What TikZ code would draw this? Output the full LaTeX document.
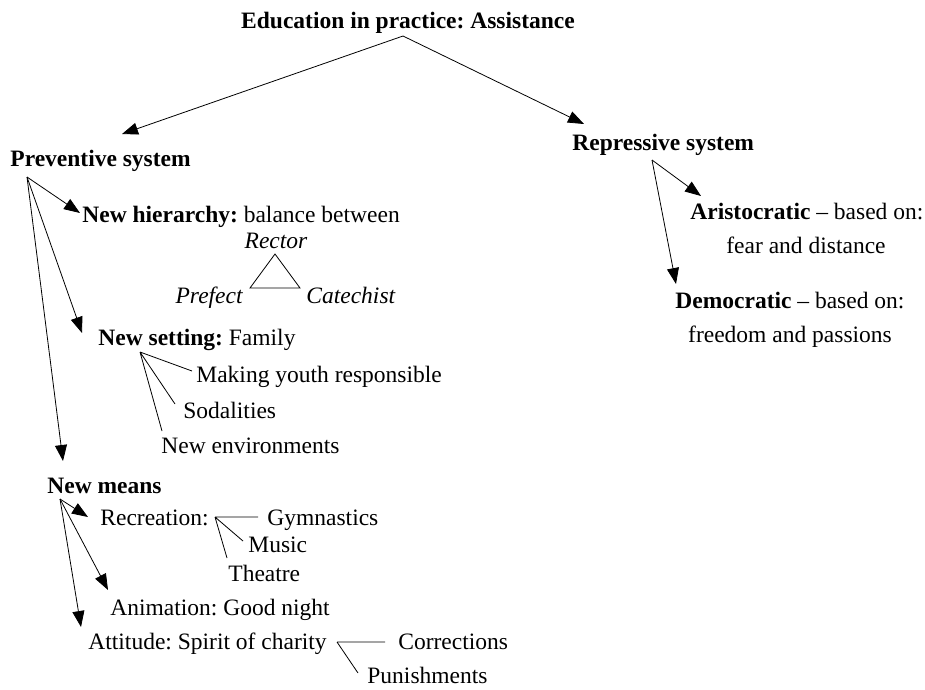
\documentclass[tikz,border=0pt]{standalone}
\usepackage{fontspec}
\setmainfont{Liberation Serif}
\usetikzlibrary{arrows.meta}
\frenchspacing
\begin{document}
\begin{tikzpicture}[x=1pt,y=-1pt,line width=0.8pt,
  every node/.style={inner sep=0pt,font=\fontsize{23.5}{28}\selectfont},
  lbl/.style={anchor=base west},
  lblc/.style={anchor=base},
  lble/.style={anchor=base east},
  arr/.style={-{Triangle[length=16pt,width=12pt]}},
  fan/.style={line width=0.8pt}]
\useasboundingbox (0,0) rectangle (925,689);
% texts
\node[lblc] (title) at (408,28) {\textbf{Education in practice: Assistance}};
\node[lbl] (prev) at (10,166) {\textbf{Preventive system}};
\node[lbl] (rep) at (572,150) {\textbf{Repressive system}};
\node[lbl] (hier) at (82,222) {\textbf{New hierarchy:} balance between};
\node[lblc] (rector) at (276,248) {\itshape Rector};
\node[lble] (prefect) at (243,303) {\itshape Prefect};
\node[lbl] (catechist) at (306,303) {\itshape Catechist};
\node[lbl] (setting) at (98,345) {\textbf{New setting:} Family};
\node[lbl] (youth) at (196,382) {Making youth responsible};
\node[lbl] (sodal) at (183,418) {Sodalities};
\node[lbl] (envir) at (161,453) {New environments};
\node[lbl] (means) at (47,493) {\textbf{New means}};
\node[lbl] (recr) at (100,525) {Recreation:};
\node[lbl] (gymn) at (267,525) {Gymnastics};
\node[lbl] (music) at (248,552) {Music};
\node[lbl] (theatre) at (228,581) {Theatre};
\node[lbl] (anim) at (110,615) {Animation: Good night};
\node[lbl] (attit) at (88,649) {Attitude: Spirit of charity};
\node[lbl] (corr) at (398,649) {Corrections};
\node[lbl] (pun) at (367,683) {Punishments};
\node[lbl] (aris) at (690,219) {\textbf{Aristocratic} -- based on:};
\node[lblc] (fear) at (806,253) {fear and distance};
\node[lbl] (demo) at (675,308) {\textbf{Democratic} -- based on:};
\node[lblc] (freed) at (790,342) {freedom and passions};
% coordinates
\coordinate (ta) at (403,36);
\coordinate (tl) at (122,134);
\coordinate (tr) at (584,124);
\coordinate (pa) at (27,177);
\coordinate (ph) at (80,213);
\coordinate (ps) at (82,333);
\coordinate (pm) at (63,461);
\coordinate (ra) at (652,160);
\coordinate (rar) at (701,196);
\coordinate (rde) at (676,284);
\coordinate (tri1) at (275,254);
\coordinate (tri2) at (250,288);
\coordinate (tri3) at (300,288);
\coordinate (sa) at (140,352);
\coordinate (sy) at (192,371);
\coordinate (ss) at (175,404);
\coordinate (se) at (162,431);
\coordinate (ma) at (60,499);
\coordinate (mr) at (88,517);
\coordinate (man) at (108,590);
\coordinate (mat) at (81,627);
\coordinate (ca) at (215,517);
\coordinate (cg) at (258,517);
\coordinate (cm) at (243,541);
\coordinate (ct) at (227,558);
\coordinate (aa) at (337,642);
\coordinate (ac) at (385,642);
\coordinate (ap) at (358,673);
% connectors
\draw[arr] (ta) -- (tl);
\draw[arr] (ta) -- (tr);
\draw[arr] (pa) -- (ph);
\draw[arr] (pa) -- (ps);
\draw[arr] (pa) -- (pm);
\draw[arr] (ra) -- (rar);
\draw[arr] (ra) -- (rde);
\draw (tri1) -- (tri2) -- (tri3) -- cycle;
\draw[fan] (sa) -- (sy) (sa) -- (ss) (sa) -- (se);
\draw[arr] (ma) -- (mr);
\draw[arr] (ma) -- (man);
\draw[arr] (ma) -- (mat);
\draw[fan] (ca) -- (cg) (ca) -- (cm) (ca) -- (ct);
\draw[fan] (aa) -- (ac) (aa) -- (ap);
\end{tikzpicture}
\end{document}
